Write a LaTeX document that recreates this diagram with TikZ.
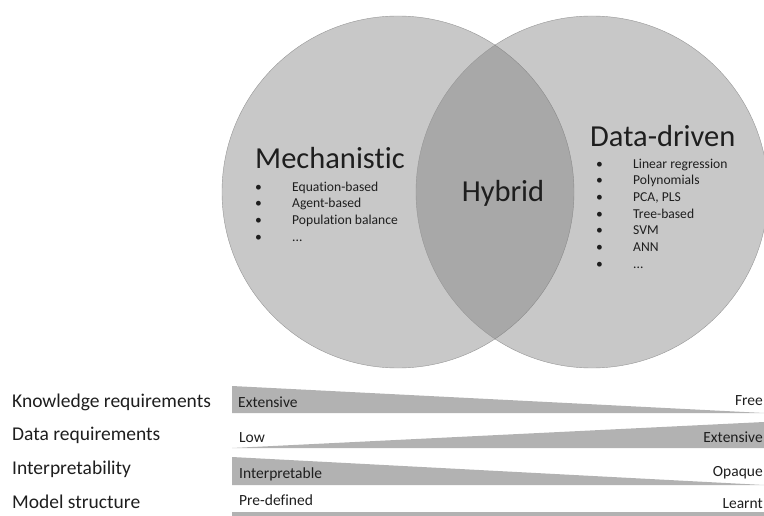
\documentclass[tikz,border=0pt]{standalone}
\usepackage{fontspec}
\setmainfont{Carlito}[Ligatures=CommonOff]
\definecolor{vennfill}{RGB}{124,124,124}
\definecolor{vennline}{RGB}{150,150,150}
\definecolor{wedgegray}{RGB}{178,178,178}
\definecolor{inktext}{RGB}{30,30,30}
\tikzset{
    venn-circle/.style = {circle, draw=vennline, fill=vennfill, fill opacity=0.42, minimum size=352pt, inner sep=0pt},
    venn-title/.style = {text=inktext, font=\fontsize{30.5}{36}\selectfont, inner sep=0pt},
    item-list/.style = {text=inktext, font=\fontsize{13.6}{16.7}\selectfont, inner sep=0pt, anchor=north west},
    row-label/.style = {text=inktext, font=\fontsize{19.5}{23}\selectfont, inner sep=0pt, anchor=base west},
    wedge/.style = {fill=wedgegray},
    wedge-text/.style = {text=inktext, font=\fontsize{15.5}{18}\selectfont, inner sep=0pt},
}

\begin{document}
\begin{tikzpicture}[x=1pt, y=-1pt]
\useasboundingbox (0,0) rectangle (764,516);
\clip (0,0) rectangle (764,516);

% venn diagram
\node [venn-circle] (mech) at (398,192) {};
\node [venn-circle] (data) at (592,192) {};

\node [venn-title, anchor=base west] (mech-title) at (255,169) {Mechanistic};
\node [venn-title, anchor=base] (hybrid) at (503,202) {Hybrid};
\node [venn-title, anchor=base west] (data-title) at (590,147) {Data-driven};

\node [item-list] (mech-list) at (255,179.3) {\begin{tabular}{@{}p{37pt}@{}l@{}}
    \textbullet & Equation-based\\
    \textbullet & Agent-based\\
    \textbullet & Population balance\\
    \textbullet & ...
\end{tabular}};
\node [item-list] (data-list) at (596,156.3) {\begin{tabular}{@{}p{37pt}@{}l@{}}
    \textbullet & Linear regression\\
    \textbullet & Polynomials\\
    \textbullet & PCA, PLS\\
    \textbullet & Tree-based\\
    \textbullet & SVM\\
    \textbullet & ANN\\
    \textbullet & ...
\end{tabular}};

% comparison scales
\fill [wedge] (232,386) -- (232,413) -- (764,413) -- cycle;
\fill [wedge] (232,448) -- (764,422) -- (764,448) -- cycle;
\fill [wedge] (232,457) -- (232,485) -- (764,485) -- cycle;
\fill [wedge] (232,512) rectangle (764,520);

\node [row-label] (knowledge) at (12,407) {Knowledge requirements};
\node [row-label] (data-req) at (12,440) {Data requirements};
\node [row-label] (interp) at (12,474) {Interpretability};
\node [row-label] (structure) at (12,508) {Model structure};

\node [wedge-text, anchor=base west] (know-lo) at (238,407) {Extensive};
\node [wedge-text, anchor=base east] (know-hi) at (763,405) {Free};
\node [wedge-text, anchor=base west] (data-lo) at (239,442) {Low};
\node [wedge-text, anchor=base east] (data-hi) at (763,442) {Extensive};
\node [wedge-text, anchor=base west] (interp-lo) at (239,478) {Interpretable};
\node [wedge-text, anchor=base east] (interp-hi) at (763,476) {Opaque};
\node [wedge-text, anchor=base west] (struct-lo) at (239,505) {Pre-defined};
\node [wedge-text, anchor=base east] (struct-hi) at (763,508) {Learnt};
\end{tikzpicture}
\end{document}
